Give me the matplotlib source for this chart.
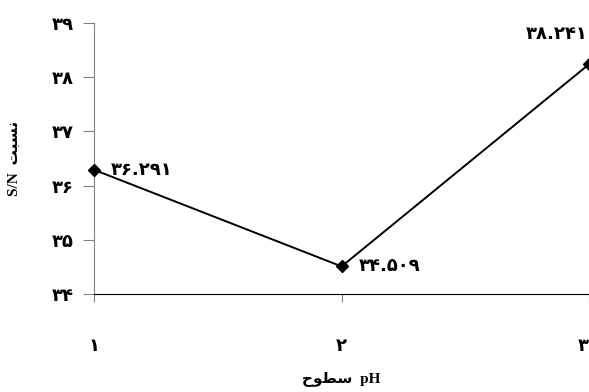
import numpy as np
from matplotlib import pyplot as plt

# data
levels = [1, 2, 3]
sn_ratio = [36.291, 34.509, 38.241]
y_ticks = [34, 35, 36, 37, 38, 39]

fa = str.maketrans("0123456789", "۰۱۲۳۴۵۶۷۸۹")
def to_fa(v):
    return str(v).translate(fa)

# shaped Persian words (presentation forms, visual order)
ylab = "S/N  " + "\uFE96\uFE92\uFEB4\uFEE7"      # نسبت
xlab = "\uFEA1\uFEEE\uFEC4\uFEB3  pH"            # سطوح

plt.rcParams['font.family'] = ['Liberation Serif', 'DejaVu Sans']

fig = plt.figure(figsize=(5.89, 3.92), dpi=100)
ax = fig.add_axes([0.16, 0.25, 0.84, 0.691])

ax.plot(levels, sn_ratio, color='black', lw=1.4, marker='D', ms=6.5,
        mfc='black', mec='black', clip_on=False, zorder=3)

num_font = dict(family='DejaVu Sans', fontsize=13, fontweight='bold')

ax.set_xlim(1, 3)
ax.set_ylim(34, 39)
ax.set_yticks(y_ticks)
ax.set_yticklabels([to_fa(t) for t in y_ticks], **num_font)
ax.set_xticks(levels)
ax.set_xticklabels([to_fa(t) for t in levels], **num_font)
ax.get_xticklabels()[-1].set_horizontalalignment('right')

for s in ['top', 'right']:
    ax.spines[s].set_visible(False)
ax.spines['left'].set_color('#808080')
ax.spines['bottom'].set_color('black')
ax.tick_params(axis='y', direction='out', length=8, color='#808080', pad=7)
ax.tick_params(axis='x', direction='out', length=6, color='#808080', pad=25)

# value labels
ax.annotate(to_fa(sn_ratio[0]), (levels[0], sn_ratio[0]), xytext=(12, 0),
            textcoords='offset points', ha='left', va='center', **num_font)
ax.annotate(to_fa(sn_ratio[1]), (levels[1], sn_ratio[1]), xytext=(12, 0),
            textcoords='offset points', ha='left', va='center', **num_font)
ax.annotate(to_fa(sn_ratio[2]), (levels[2], sn_ratio[2]), xytext=(-1, 22),
            textcoords='offset points', ha='right', va='center',
            annotation_clip=False, **num_font)

ax.set_ylabel(ylab, fontsize=11, fontweight='bold', labelpad=22)
ax.set_xlabel(xlab, fontsize=11, fontweight='bold', labelpad=12)

fig.savefig('out.png', dpi=100)
